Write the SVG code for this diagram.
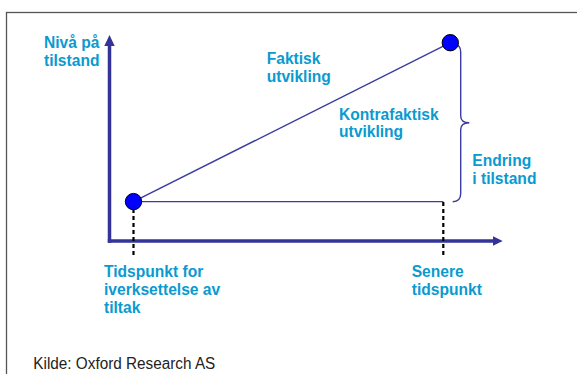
<svg xmlns="http://www.w3.org/2000/svg" width="577" height="374" viewBox="0 0 577 374">
<style>
.lbl{font-family:"Liberation Sans",Arial,sans-serif;font-weight:bold;font-size:15.6px;fill:#0a9ad0}
.src{font-family:"Liberation Sans",Arial,sans-serif;font-size:16px;fill:#222}
.axis{stroke:#333399;stroke-width:3.5;fill:none}
.ln{stroke:#3b3ba0;stroke-width:1.4;fill:none}
.dash{stroke:#000;stroke-width:2.2;stroke-dasharray:4 3;fill:none}
.dot{fill:#0000ff;stroke:#000;stroke-width:1}
</style>
<rect x="0" y="0" width="577" height="374" fill="#fff"/>
<rect id="frame" x="6.5" y="12.5" width="620" height="420" fill="none" stroke="#555" stroke-width="1.3"/>
<g id="connectors">
<line class="axis" x1="109.5" y1="242.7" x2="109.5" y2="44"/>
<polygon points="109.5,35 104.3,46 114.7,46" fill="#333399"/>
<line class="axis" x1="107.8" y1="241" x2="494" y2="241"/>
<polygon points="502.7,241 493,236.3 493,245.7" fill="#333399"/>
<line class="ln" x1="133.5" y1="201.6" x2="450.3" y2="42.7"/>
<line class="ln" x1="133.5" y1="201.6" x2="443.3" y2="201.6"/>
<line class="dash" x1="133.5" y1="209" x2="133.5" y2="258"/>
<line class="dash" x1="443.3" y1="202" x2="443.3" y2="257"/>
<path class="ln" d="M452.7,44 Q460.7,44 460.7,52 L460.7,116 Q460.7,122.7 469.3,122.7 Q460.7,122.7 460.7,129.5 L460.7,193.5 Q460.7,201.7 452.7,201.7"/>
</g>
<g id="start-point"><circle class="dot" cx="133.5" cy="201.6" r="8.2"/></g>
<g id="end-point"><circle class="dot" cx="450.3" cy="42.7" r="8.2"/></g>
<g id="y-label"><text class="lbl" x="44" y="48.3">Nivå på</text><text class="lbl" x="44" y="65.8">tilstand</text></g>
<g id="faktisk"><text class="lbl" x="266.7" y="64">Faktisk</text><text class="lbl" x="266.7" y="81.6">utvikling</text></g>
<g id="kontrafaktisk"><text class="lbl" x="339" y="119.6">Kontrafaktisk</text><text class="lbl" x="339" y="137.2">utvikling</text></g>
<g id="endring"><text class="lbl" x="472.3" y="166.4">Endring</text><text class="lbl" x="472.3" y="183.8">i tilstand</text></g>
<g id="tidspunkt"><text class="lbl" x="104" y="277">Tidspunkt for</text><text class="lbl" x="104" y="295.2">iverksettelse av</text><text class="lbl" x="104" y="313.3">tiltak</text></g>
<g id="senere"><text class="lbl" x="411.7" y="277">Senere</text><text class="lbl" x="411.7" y="295.2">tidspunkt</text></g>
<g id="source"><text class="src" x="33.3" y="369" textLength="182" lengthAdjust="spacingAndGlyphs">Kilde: Oxford Research AS</text></g>
</svg>
